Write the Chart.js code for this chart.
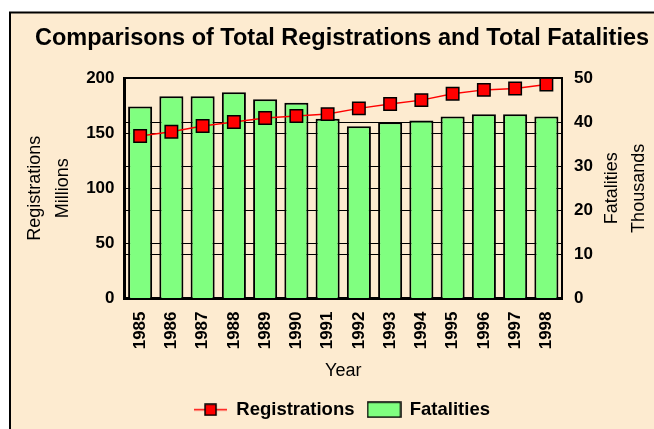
<!DOCTYPE html>
<html>
<head>
<meta charset="utf-8">
<script src="https://cdn.jsdelivr.net/npm/chart.js@4"></script>
<style>
html,body{margin:0;padding:0;overflow:hidden;background:#fff}
#wrap{width:684px;height:429px}
</style>
</head>
<body>
<div id="wrap"><canvas id="c" width="684" height="429"></canvas></div>
<script>
// ---- data ----
const years = ['1985','1986','1987','1988','1989','1990','1991','1992','1993','1994','1995','1996','1997','1998'];
const registrations = [147.5, 151.4, 156.6, 160.2, 163.8, 165.6, 167.4, 172.6, 176.5, 180.1, 185.8, 189.4, 190.7, 194.3];
const fatalities = [43.6, 45.9, 45.9, 46.8, 45.2, 44.4, 40.8, 39.1, 40.0, 40.4, 41.3, 41.8, 41.8, 41.3];
const chartTitle = 'Comparisons of Total Registrations and Total Fatalities';
const xTitle = 'Year';
const leftTitle = ['Registrations', 'Millions'];
const rightTitle = ['Fatalities', 'Thousands'];
const seriesNames = ['Registrations', 'Fatalities'];

const FONT = "'Liberation Sans', Arial, sans-serif";
const BG = '#FDEBD0';
const GREEN = '#80FF80';
const RED = '#FF0000';

function lineIcon() {
  const c = document.createElement('canvas');
  c.width = 33; c.height = 13;
  const g = c.getContext('2d');
  g.strokeStyle = RED; g.lineWidth = 1.5;
  g.beginPath(); g.moveTo(0, 6.5); g.lineTo(33, 6.5); g.stroke();
  g.fillStyle = RED; g.fillRect(11, 1, 11, 11);
  g.strokeStyle = '#000'; g.lineWidth = 1.5; g.strokeRect(11, 1, 11, 11);
  return c;
}
function boxIcon() {
  const c = document.createElement('canvas');
  c.width = 35; c.height = 17;
  const g = c.getContext('2d');
  g.fillStyle = GREEN; g.fillRect(1, 1, 33, 15);
  g.strokeStyle = '#000'; g.lineWidth = 1.5; g.strokeRect(1, 1, 33, 15);
  return c;
}
const icons = [lineIcon(), boxIcon()];

const framePlugin = {
  id: 'frame',
  beforeDraw(chart) {
    const ctx = chart.ctx;
    ctx.save();
    ctx.fillStyle = '#fff';
    ctx.fillRect(0, 0, chart.width, chart.height);
    ctx.fillStyle = BG;
    ctx.fillRect(10, 13, chart.width, chart.height);
    ctx.strokeStyle = '#000';
    ctx.lineWidth = 2;
    ctx.beginPath();
    ctx.moveTo(10, chart.height + 5);
    ctx.lineTo(10, 12.5);
    ctx.lineTo(chart.width + 5, 12.5);
    ctx.stroke();
    ctx.restore();
  }
};

const rightTitlePlugin = {
  id: 'rightTitle',
  afterDraw(chart) {
    const s = chart.scales.y1;
    const ctx = chart.ctx;
    ctx.save();
    ctx.font = '18px ' + FONT;
    ctx.fillStyle = '#000';
    ctx.textAlign = 'center';
    ctx.textBaseline = 'middle';
    const cy = (s.top + s.bottom) / 2;
    const offs = [50, 77];
    rightTitle.forEach((t, i) => {
      ctx.save();
      ctx.translate(s.left + offs[i], cy);
      ctx.rotate(-Math.PI / 2);
      ctx.fillText(t, 0, 0);
      ctx.restore();
    });
    ctx.restore();
  }
};

const tickFont = {family: FONT, size: 17, weight: 'bold'};

new Chart(document.getElementById('c'), {
  type: 'bar',
  data: {
    labels: years,
    datasets: [
      {
        type: 'line', label: seriesNames[0], data: registrations, yAxisID: 'y',
        borderColor: RED, borderWidth: 1.5, backgroundColor: RED,
        pointStyle: 'rect', pointRadius: 8.8, pointBorderColor: '#000', pointBorderWidth: 1.5,
        pointBackgroundColor: RED, order: 1, tension: 0
      },
      {
        type: 'bar', label: seriesNames[1], data: fatalities, yAxisID: 'y1',
        backgroundColor: GREEN, borderColor: '#000', borderWidth: 2,
        barPercentage: 0.77, categoryPercentage: 1, order: 2
      }
    ]
  },
  options: {
    responsive: false,
    devicePixelRatio: 1,
    animation: false,
    layout: {padding: {left: 12, right: 12, top: 13, bottom: 0}},
    plugins: {
      title: {
        display: true, text: chartTitle, color: '#000',
        font: {family: FONT, size: 23.5, weight: 'bold', lineHeight: 1.2},
        padding: {top: 11.5, bottom: 25.5}
      },
      legend: {
        position: 'bottom',
        labels: {
          usePointStyle: true, pointStyleWidth: 33, padding: 13, color: '#000',
          font: {family: FONT, size: 18.5, weight: 'bold'},
          generateLabels: (chart) => chart.data.datasets.map((d, i) => ({
            text: d.label, pointStyle: icons[i], fillStyle: 'transparent',
            strokeStyle: 'transparent', lineWidth: 0, datasetIndex: i, hidden: false, fontColor: '#000'
          }))
        }
      },
      tooltip: {enabled: false}
    },
    scales: {
      x: {
        grid: {display: false, drawTicks: false, tickLength: 0},
        border: {display: true, color: '#000', width: 3},
        ticks: {autoSkip: false, minRotation: 90, maxRotation: 90, padding: 13, color: '#000', font: tickFont},
        title: {display: true, text: xTitle, color: '#000', font: {family: FONT, size: 18}, padding: {top: 0, bottom: 6}},
        afterFit(s) { s.height = 89; }
      },
      y: {
        position: 'left', min: 0, max: 200,
        ticks: {stepSize: 50, padding: 10, color: '#000', font: tickFont},
        grid: {color: '#000', lineWidth: (c) => (c.tick && c.tick.value === 200 ? 2 : 1), drawTicks: false, tickLength: 0},
        border: {display: true, color: '#000', width: 3},
        title: {display: true, text: leftTitle, color: '#000', font: {family: FONT, size: 18, lineHeight: '28px'}, padding: {top: 9, bottom: 0}},
        afterFit(s) { s.width = 112.5; }
      },
      y1: {
        position: 'right', min: 0, max: 50,
        ticks: {stepSize: 10, padding: 12, color: '#000', font: tickFont},
        grid: {color: '#000', lineWidth: (c) => (c.tick && c.tick.value === 50 ? 2 : 1), drawTicks: false, tickLength: 0},
        border: {display: true, color: '#000', width: 2},
        afterFit(s) { s.width = 110; }
      }
    }
  },
  plugins: [framePlugin, rightTitlePlugin]
});
</script>
</body>
</html>
